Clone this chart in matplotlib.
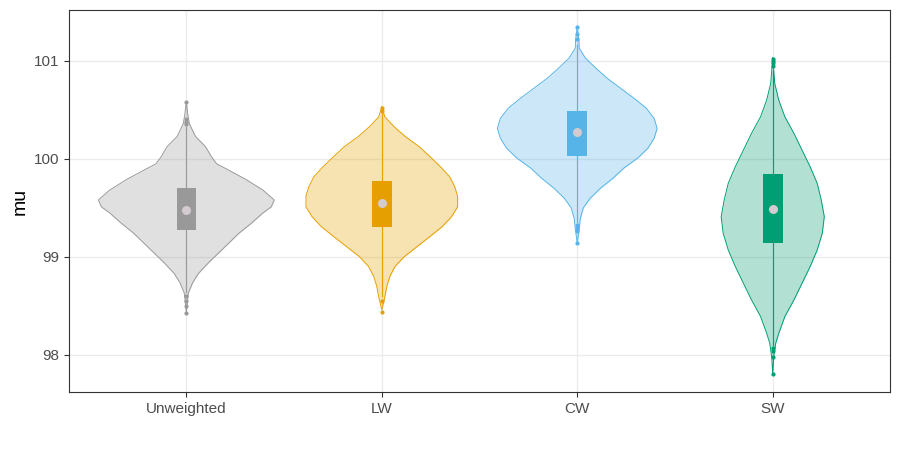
import numpy as np
import matplotlib.pyplot as plt

plt.rcParams['font.family'] = ['Liberation Sans', 'DejaVu Sans']

groups = ["Unweighted", "LW", "CW", "SW"]
colors = ["#999999", "#E69F00", "#56B4E9", "#009E73"]

# violin outlines: y level -> relative density
unw_y = [100.585, 100.45, 100.36, 100.23, 100.125, 100.02, 99.95, 99.89, 99.79, 99.68, 99.58, 99.51,
         99.45, 99.34, 99.24, 99.14, 99.04, 98.94, 98.83, 98.73, 98.63, 98.43]
unw_d = [0, 1.5, 3, 9, 19, 25, 30, 41, 59, 76, 87, 84, 76, 64, 52, 42, 32, 22, 12, 6, 2, 0]

lw_y = [100.53, 100.43, 100.33, 100.23, 100.125, 100.02, 99.92, 99.82, 99.72, 99.62, 99.51, 99.41,
        99.31, 99.21, 99.105, 99.0, 98.9, 98.8, 98.7, 98.59, 98.46]
lw_d = [0, 3, 12, 23, 37, 48, 58, 67, 72, 75, 75, 69, 60, 48, 35, 22, 13, 8, 5, 3, 0]

cw_y = [101.35, 101.23, 101.13, 101.03, 100.93, 100.82, 100.72, 100.62, 100.52, 100.415, 100.31,
        100.21, 100.11, 100.01, 99.905, 99.8, 99.7, 99.6, 99.5, 99.39, 99.29, 99.14]
cw_d = [0, 1.5, 2, 8, 18, 30, 43, 56, 68, 76, 79, 76, 70, 60, 46, 35, 23, 13, 6, 3, 2, 0]

sw_y = [101.03, 100.77, 100.6, 100.43, 100.26, 100.09, 99.92, 99.75, 99.58, 99.41, 99.24, 99.07,
        98.9, 98.73, 98.56, 98.39, 98.22, 98.12, 97.98, 97.8]
sw_d = [0, 2, 6, 12, 21, 29, 37, 44, 48, 51, 49, 44, 37, 29, 21, 12, 6, 3, 1, 0]

viol_y = [unw_y, lw_y, cw_y, sw_y]
viol_d = [unw_d, lw_d, cw_d, sw_d]

# box stats
q1 = [99.27, 99.30, 100.03, 99.14]
med = [99.48, 99.55, 100.27, 99.49]
q3 = [99.70, 99.77, 100.49, 99.85]
wlo = [98.64, 98.60, 99.36, 98.10]
whi = [100.33, 100.46, 101.16, 100.90]
outliers = [
    [100.36, 100.38, 100.41, 100.585, 98.60, 98.55, 98.50, 98.43],
    [100.49, 100.52, 98.55, 98.44],
    [101.22, 101.27, 101.35, 99.32, 99.29, 99.26, 99.14],
    [100.95, 100.98, 101.0, 101.02, 98.07, 98.04, 97.98, 97.80],
]

fig, ax = plt.subplots(figsize=(9, 4.5), dpi=100)
fig.subplots_adjust(left=0.0767, right=0.9889, top=0.9778, bottom=0.1289)

for v in [98, 99, 100, 101]:
    ax.axhline(v, color="#ebebeb", lw=1.0, zorder=0)
for i in range(4):
    ax.axvline(i + 1, color="#ebebeb", lw=1.0, zorder=0)

dmax = max(max(d) for d in viol_d)
for i, g in enumerate(groups):
    x0 = i + 1
    c = colors[i]
    y = np.array(viol_y[i])
    hw = 0.45 * np.array(viol_d[i]) / dmax
    ax.fill_betweenx(y, x0 - hw, x0 + hw, color=c, alpha=0.3, lw=0, zorder=2)
    ax.plot(np.r_[x0 - hw, (x0 + hw)[::-1]], np.r_[y, y[::-1]], color=c, lw=0.7, zorder=3)
    # whisker + box
    ax.plot([x0, x0], [wlo[i], whi[i]], color=c, lw=0.8, zorder=4)
    ax.add_patch(plt.Rectangle((x0 - 0.05, q1[i]), 0.1, q3[i] - q1[i], facecolor=c,
                               edgecolor="none", zorder=5))
    ax.plot([x0] * len(outliers[i]), outliers[i], "o", color=c, ms=3, mec="none", zorder=5)
    ax.plot(x0, med[i], "o", color="#d3cbd0", ms=6.5, mec="none", zorder=6)

ax.set_xlim(0.4, 4.6)
ax.set_ylim(97.62, 101.52)
ax.set_xticks([1, 2, 3, 4])
ax.set_xticklabels(groups)
ax.set_yticks([98, 99, 100, 101])
ax.set_ylabel("mu", fontsize=14, color="black", labelpad=4)
ax.tick_params(labelsize=11, labelcolor="#4d4d4d", color="#333333", length=3.5, width=0.8)
for s in ax.spines.values():
    s.set_color("#333333")
    s.set_linewidth(0.8)

fig.savefig("out.png", dpi=100)
